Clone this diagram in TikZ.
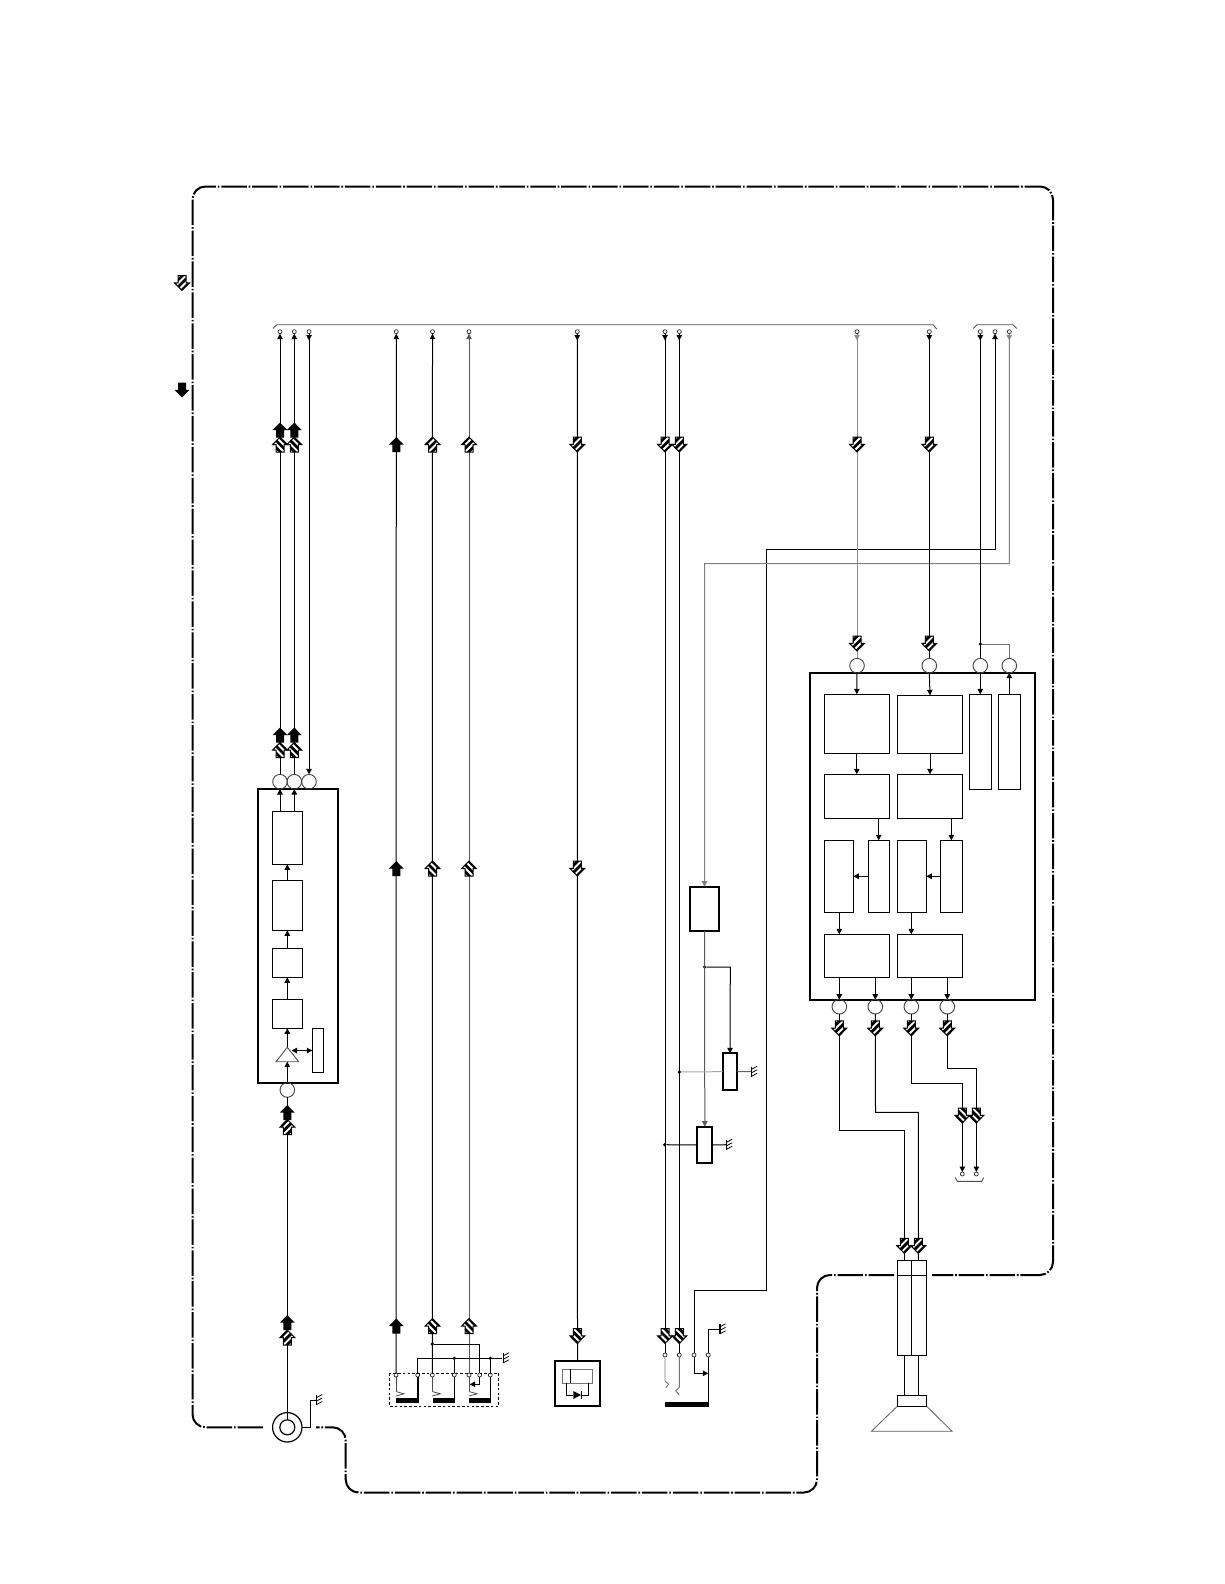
\documentclass[tikz,border=0pt]{standalone}
\usetikzlibrary{arrows.meta}
\tikzset{
  boxn/.style={draw=black,line width=1pt,inner sep=0pt,outer sep=0pt},
  thickbox/.style={draw=black,line width=2.2pt,inner sep=0pt,outer sep=0pt},
  circn/.style={circle,draw=black!75,line width=0.9pt,minimum size=14.6pt,inner sep=0pt,outer sep=0pt},
  term/.style={circle,draw=black!85,line width=0.7pt,minimum size=4pt,inner sep=0pt,outer sep=0pt,fill=white},
  dotn/.style={circle,fill=black,minimum size=3.6pt,inner sep=0pt,outer sep=0pt},
  wire/.style={line width=1pt,black},
  graywire/.style={line width=1pt,black!45},
  midwire/.style={line width=1pt,black!65},
  arr/.style={-{Triangle[length=5.5pt,width=5.5pt]}},
  arrb/.style={{Triangle[length=5.5pt,width=5.5pt]}-{Triangle[length=5.5pt,width=5.5pt]}},
  frameline/.style={line width=2pt,rounded corners=13pt,dash pattern=on 25.5pt off 1.9pt on 1.6pt off 1.9pt},
  thin gray/.style={line width=0.9pt,black!70}
}
\newcommand{\bx}[6][boxn]{%
  \pgfmathsetmacro\tmpw{#5-#3}\pgfmathsetmacro\tmph{#6-#4}%
  \pgfmathsetmacro\tmpx{(#3+#5)/2}\pgfmathsetmacro\tmpy{(#4+#6)/2}%
  \node[#1,minimum width=\tmpw pt,minimum height=\tmph pt] (#2) at (\tmpx,\tmpy) {};}
\newcommand{\arrowpath}{(0,-7.5) -- (7.5,0.2) -- (4,0.2) -- (4,7.5) -- (-4,7.5) -- (-4,0.2) -- (-7.5,0.2) -- cycle}
\newcommand{\blk}[3]{\begin{scope}[shift={(#1,#2)},rotate=#3]\fill[black] \arrowpath;\end{scope}}
\newcommand{\hatarrow}[4]{\begin{scope}[shift={(#1,#2)},rotate=#3]
  \fill[white] \arrowpath;
  \begin{scope}\clip \arrowpath;
   \foreach \o in {-14,-7,0,7,14} {\draw[line width=2.8pt,black] (-10,{\o+10*(#4)}) -- (10,{\o-10*(#4)});}
  \end{scope}
  \draw[black,line width=1pt,line join=miter] \arrowpath;
\end{scope}}
\newcommand{\gnd}[2]{\draw[line width=1.2pt,black] (#1,#2-5) -- (#1,#2+5);
  \foreach \o in {-2.5,1,4.5} {\draw[line width=0.8pt,black] (#1,#2+\o) -- (#1+5.5,#2+\o-3);}}
\begin{document}
\begin{tikzpicture}[x=1pt,y=-1pt]
\useasboundingbox (0,0) rectangle (1224,1584);
% frame
\draw[frameline] (263,1427.3) -- (192.5,1427.3) -- (192.5,186.5) -- (1053,186.5) -- (1053,1275) -- (932,1275);
\draw[frameline] (894,1275) -- (817,1275) -- (817,1492.5) -- (345.7,1492.5) -- (345.7,1427.3) -- (316,1427.3);
% legend
\hatarrow{182}{283}{180}{1}
\blk{182}{390}{180}
% top braces
\draw[thin gray] (273,328.5) -- (276.7,324.7) -- (933,324.7) -- (936.7,329);
\draw[thin gray] (973.3,328.5) -- (977,324.7) -- (1013,324.7) -- (1016.7,328.5);
% terminals along top
\foreach \n/\x in {ta/280,tb/294.3,tc/309,td/396.3,te/432.5,tf/469,tg/577.3,th/665,ti/679.3,tj/857,tk/929.3,tl/980.3,tm/995,tn/1009.3}
  {\node[term] (\n) at (\x,331.7) {};}
% down heads under the top terminals
\foreach \n/\x in {tc/309,tg/577.3,th/665,ti/679.3,tk/929.3,tl/980.3}
  {\draw[wire,arr] (\n.south) -- (\x,340.5);}
\foreach \n/\x in {tj/857,tn/1009.3}
  {\draw[graywire,arr] (\n.south) -- (\x,340.5);}
% preamp block
\bx[thickbox]{pre}{257.7}{789}{338.3}{1082.7}
\node[circn] (ca) at (280,781.7) {};
\node[circn] (cb) at (294.3,781.7) {};
\node[circn] (cc) at (309,781.7) {};
\node[circn] (cd) at (287.3,1090) {};
\bx{p1}{272.3}{811.3}{302.3}{864.3}
\bx{p2}{272.3}{880.3}{302.3}{930.3}
\bx{p3}{272.3}{948.7}{302.3}{977.3}
\bx{p4}{272.3}{999.3}{302.3}{1028.3}
\bx{ps}{312.3}{1028.3}{323.3}{1072.3}
\draw[line width=0.9pt,black!70] (287.3,1047.3) -- (298.7,1061.7) -- (276,1061.7) -- cycle;
\coordinate (triapex) at (287.3,1047.3);
\coordinate (tribase) at (287.3,1061.7);
\coordinate (triside) at (291.5,1050.5);
\coordinate (ptop1) at (280,811.3); \coordinate (ptop2) at (294.3,811.3);
\coordinate (pbd1) at (280,789); \coordinate (pbd2) at (294.3,789);
\draw[wire,arr] (ptop1) -- (pbd1);
\draw[wire,arr] (ptop2) -- (pbd2);
\draw[wire,arr] (p2.north) -- (p1.south);
\draw[wire,arr] (p3.north) -- (p2.south);
\draw[wire,arr] (p4.north) -- (p3.south);
\draw[wire,arr] (triapex) -- (p4.south);
\draw[wire,arrb] (triside) -- (ps.west |- triside);
\draw[wire,arr] (cd.north) -- (tribase);
% columns
\draw[wire,arr] (ca.north) -- (ta.south);
\draw[wire,arr] (cb.north) -- (tb.south);
\draw[wire,arr] (tc.south) -- (cc.north);
% coax
\node[circle,draw=black,line width=1.2pt,minimum size=29.4pt,inner sep=0pt,outer sep=0pt] (coax) at (287.3,1427.3) {};
\node[circle,draw=black,line width=1.2pt,minimum size=15pt,inner sep=0pt,outer sep=0pt] (coaxin) at (287.3,1427.3) {};
\draw[wire] (coaxin.north) -- (cd.south);
\draw[wire] (coax.east) -- (310,1427.3) -- (310,1400) -- (316.7,1400);
\gnd{316.7}{1400}
% switches
\foreach \n/\x in {s1/396,s2/417.7,s3/432.3,s4/454.3,s5/469,s6/479.7,s7/490.3}
  {\node[term] (\n) at (\x,1375) {};}
\draw[wire,arr] (s1.north) -- (td.south);
\draw[wire,arr] (s3.north) -- (te.south);
\draw[midwire,arr] (s5.north) -- (tf.south);
\node[dotn] (j1) at (432.3,1344) {};
\node[dotn] (j2) at (454.3,1358.3) {};
\node[dotn] (j3) at (490.3,1358.3) {};
\draw[wire] (j1) -- (479.7,1344) -- (s6.north);
\draw[wire] (s2.north) -- (417.7,1358.3) -- (501.7,1358.3);
\gnd{503.3}{1358.3}
\draw[wire] (j2) -- (s4.north);
\draw[wire] (j3) -- (s7.north);
\draw[dash pattern=on 2.6pt off 2.2pt,line width=1pt] (389.3,1373.3) rectangle (498.7,1406.3);
\draw[line width=1.7pt] (s2.south) -- (417.7,1400);
\draw[wire] (s4.south) -- (454.3,1400);
\draw[wire] (s7.south) -- (490.3,1400);
\fill (396,1398.3) rectangle (418.7,1402.7);
\fill (433,1398.3) rectangle (454.7,1402.7);
\fill (469,1398.3) rectangle (490.7,1402.7);
\foreach \x in {396,432.3,469} {
  \draw[line width=0.8pt,black!70] (\x,1376.5) -- (\x,1391);
  \draw[line width=0.8pt,black!70] (\x,1391.5) -- (\x+8,1393.8) -- (\x,1396);}
\draw[wire,arr] (s6.south) -- (479.7,1384.3) -- (469.7,1384.3);
% solenoid
\bx[thickbox]{sol}{555}{1361.3}{600}{1406}
\bx[draw=black!55,line width=0.9pt,inner sep=0pt,outer sep=0pt]{solin}{562.7}{1369}{592.3}{1383.3}
\draw[line width=0.9pt,black] (570.3,1369) -- (570.3,1383.3);
\draw[wire] (566.3,1383.3) -- (566.3,1395) -- (573.3,1395);
\draw[wire] (581.3,1395) -- (588.3,1395) -- (588.3,1383.3);
\fill (573.3,1391) -- (581,1395) -- (573.3,1399) -- cycle;
\draw[line width=1pt] (581.3,1391) -- (581.3,1399);
\draw[wire] (tg.south) -- (sol.north);
% lower terminals
\foreach \n/\x in {u1/665,u2/679.3,u3/694,u4/708.3} {\node[term] (\n) at (\x,1355) {};}
\draw[wire] (u1.north) -- (th.south);
\draw[wire] (u2.north) -- (ti.south);
\draw[line width=0.9pt,black!55] (u1.south) -- (665,1381) -- (668.5,1384.2) -- (665.7,1387.7);
\draw[line width=0.9pt,black!55] (u2.south) -- (679.3,1387.3) -- (675.7,1390.7) -- (679.3,1395);
\fill (665,1402) rectangle (708.8,1406.7);
\draw[line width=1.4pt] (u4.south) -- (708.3,1402);
\draw[wire,arr] (u3.south) -- (694,1373.3) -- (708.3,1373.3);
\draw[wire] (u4.north) -- (708.3,1329.3) -- (720,1329.3);
\gnd{720}{1329.3}
\draw[wire,arr] (u3.north) -- (694,1290) -- (766.6,1290) -- (766.6,549.5) -- (995,549.5) -- (tm.south);
% switch box group
\bx[thickbox]{rl}{689.7}{886.7}{719.3}{931}
\draw[graywire,black!50,arr] (tn.south) -- (1009.3,563.6) -- (704.7,563.6) -- (rl.north);
\bx[thickbox]{v1}{722.7}{1053.3}{737.3}{1090}
\bx[thickbox]{v2}{697.3}{1126.7}{712.3}{1163.3}
\node[dotn] (k1) at (704.7,967) {};
\node[dotn] (k2) at (679.3,1072) {};
\node[dotn] (k3) at (664.7,1144.7) {};
\draw[midwire,arr] (rl.south) -- (v2.north);
\draw[wire,arr] (k1) -- (730.3,967) -- (v1.north);
\draw[graywire,black!35] (k2) -- (v1.west);
\draw[graywire,black!60] (v1.east) -- (751.7,1071.7);
\gnd{751.7}{1071.7}
\draw[wire] (k3) -- (v2.west);
\draw[wire] (v2.east) -- (726.7,1144.7);
\gnd{726.7}{1144.7}
% amp block
\bx[thickbox]{amp}{810}{672.7}{1035.3}{999.7}
\node[circn] (c1) at (857,665.7) {};
\node[circn] (c2) at (929.3,665.7) {};
\node[circn] (c3) at (980.3,665.7) {};
\node[circn] (c4) at (1009.3,665.7) {};
\bx{a1}{824.3}{694.3}{889.3}{753.3}
\bx{a2}{897.3}{695.3}{962.7}{753.3}
\bx{a3}{969.3}{694.3}{991.3}{789.3}
\bx{a4}{998.3}{694.3}{1020.3}{789.3}
\bx{b1}{824.3}{774.3}{889.3}{818.3}
\bx{b2}{897.3}{774.3}{962.7}{818.3}
\bx{d1}{824.3}{840.3}{853.3}{912.3}
\bx{d2}{868.3}{840.3}{889.3}{912.3}
\bx{d3}{897.3}{840.3}{926.3}{912.3}
\bx{d4}{940.3}{840.3}{962.7}{912.3}
\bx{e1}{824.3}{934.3}{889.3}{977.3}
\bx{e2}{897.3}{934.3}{962.7}{977.3}
\draw[graywire] (tj.south) -- (c1.north);
\draw[wire] (tk.south) -- (c2.north);
\draw[wire] (tl.south) -- (c3.north);
\node[dotn] (k4) at (980.3,644) {};
\draw[graywire,black!55] (k4) -- (1009.3,644) -- (c4.north);
\draw[wire,arr] (c1.south |- amp.north) -- (a1.north);
\draw[wire,arr] (c2.south |- amp.north) -- (a2.north);
\draw[wire,arr] (c3.south |- amp.north) -- (a3.north);
\draw[wire,arr] (a4.north) -- (c4.south |- amp.north);
\draw[wire,arr] (a1.south) -- (b1.north);
\draw[wire,arr] (a2.south) -- (b2.north);
\draw[wire,arr] (878.7,818.3) -- (878.7,840.3);
\draw[wire,arr] (951.3,818.3) -- (951.3,840.3);
\draw[wire,arr] (d2.west) -- (d1.east);
\draw[wire,arr] (d4.west) -- (d3.east);
\draw[wire,arr] (839.3,912.3) -- (839.3,934.3);
\draw[wire,arr] (911.3,912.3) -- (911.3,934.3);
\foreach \x/\n in {839.3/o1,875.3/o2,911.3/o3,947.3/o4} {
  \node[circn] (\n) at (\x,1006.7) {};
  \draw[wire,arr] (\x,977.3) -- (\x,999.7);}
% speaker
\bx{spA}{897.3}{1260.3}{911.7}{1355.3}
\bx{spB}{911.7}{1260.3}{926.7}{1355.3}
\draw[line width=0.8pt,black] (897.3,1275) -- (926.7,1275);
\bx{spC}{897.3}{1395.3}{926.7}{1406.3}
\draw[wire] (904.3,1355.3) -- (904.3,1395.3);
\draw[wire] (918.3,1355.3) -- (918.3,1395.3);
\draw[line width=0.8pt,black!65] (spC.south west) -- (871.3,1431.3) -- (952,1431.3) -- (spC.south east);
\draw[wire] (o1.south) -- (839.3,1130.7) -- (904.3,1130.7) -- (904.3,1260.3);
\draw[wire] (o2.south) -- (875.5,1112.3) -- (918.3,1112.3) -- (918.3,1260.3);
\node[term] (w1) at (962.3,1174) {};
\node[term] (w2) at (976.3,1174) {};
\draw[wire,arr] (o3.south) -- (911.3,1083.7) -- (962.3,1083.7) -- (w1.north);
\draw[wire,arr] (o4.south) -- (947.3,1068.6) -- (976.3,1068.6) -- (w2.north);
\draw[thin gray] (955.3,1177.5) -- (957.3,1181.3) -- (981.7,1181.3) -- (983.7,1177.5);
% arrow symbols
\foreach \x in {280,294.3} {\blk{\x}{430}{0}\hatarrow{\x}{444.5}{0}{-1}\blk{\x}{735}{0}\hatarrow{\x}{750}{0}{-1}}
\blk{396.3}{444.5}{0}\hatarrow{432.5}{444.5}{0}{1}\hatarrow{469}{444.5}{0}{1}
\hatarrow{577.3}{444.5}{180}{1}\hatarrow{665}{444.5}{180}{1}\hatarrow{679.3}{444.5}{180}{1}
\hatarrow{857}{444.5}{180}{1}\hatarrow{929.3}{444.5}{180}{1}
\blk{396.3}{868.5}{0}\hatarrow{432.5}{868.5}{0}{-1}\hatarrow{469}{868.5}{0}{-1}\hatarrow{577.3}{868.5}{180}{1}
\blk{287.3}{1112.5}{0}\hatarrow{287.3}{1127}{0}{1}
\blk{287.3}{1322.5}{0}\hatarrow{287.3}{1337.5}{0}{1}
\blk{396.3}{1326}{0}\hatarrow{432.5}{1326}{0}{-1}\hatarrow{469}{1326}{0}{-1}
\hatarrow{577.3}{1336}{180}{-1}\hatarrow{665}{1336}{180}{-1}\hatarrow{679.3}{1336}{180}{-1}
\hatarrow{857}{643.5}{180}{1}\hatarrow{929.3}{643.5}{180}{1}
\foreach \x in {839.3,875.3,911.3,947.3} {\hatarrow{\x}{1028.3}{180}{1}}
\hatarrow{962.3}{1115.5}{180}{-1}\hatarrow{976.3}{1115.5}{180}{-1}
\hatarrow{904.3}{1245.8}{180}{1}\hatarrow{918.3}{1245.8}{180}{1}
\end{tikzpicture}
\end{document}
